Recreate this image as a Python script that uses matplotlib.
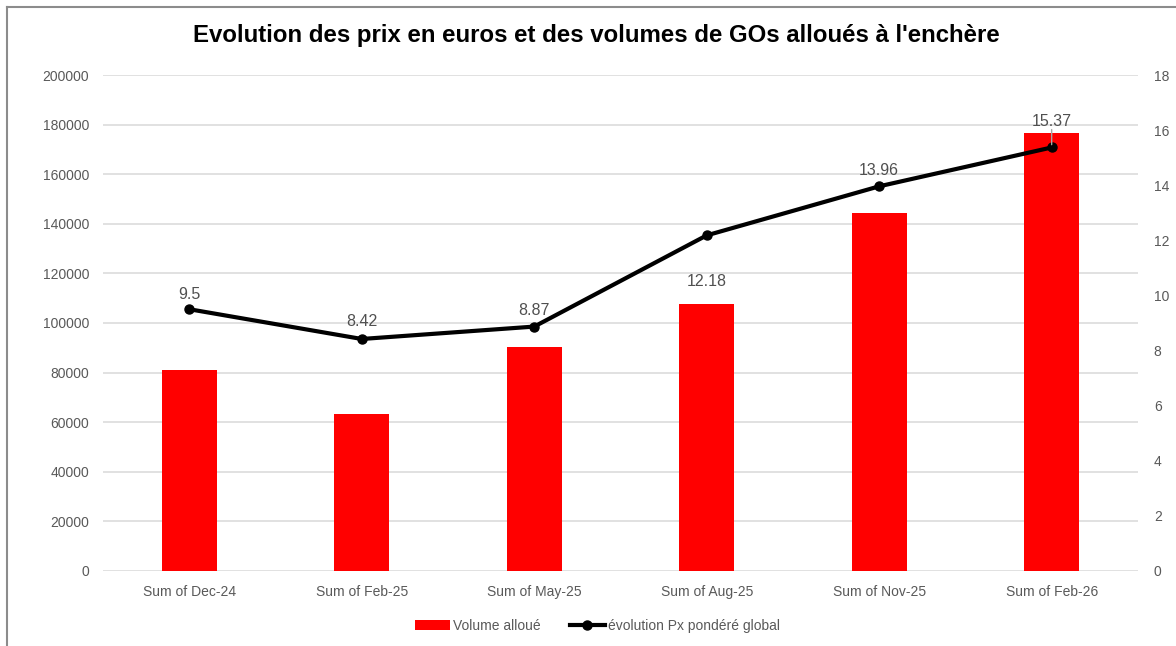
# bar + line chart: GO auction volumes and weighted price
import matplotlib
matplotlib.use('Agg')
import matplotlib.pyplot as plt
from matplotlib.lines import Line2D
from matplotlib.patches import Patch
import numpy as np

plt.rcParams['font.family'] = ['Liberation Sans', 'DejaVu Sans']

# data
categories = ['Sum of Dec-24', 'Sum of Feb-25', 'Sum of May-25',
              'Sum of Aug-25', 'Sum of Nov-25', 'Sum of Feb-26']
volumes = [81000, 63500, 90500, 107500, 144500, 176500]
prices = [9.5, 8.42, 8.87, 12.18, 13.96, 15.37]
price_labels = ['9.5', '8.42', '8.87', '12.18', '13.96', '15.37']

grey_txt = '#595959'
grid_col = '#d9d9d9'

fig = plt.figure(figsize=(11.76, 6.46), dpi=100)
ax = fig.add_axes([0.0876, 0.1161, 0.880, 0.7678])
ax2 = ax.twinx()

x = np.arange(len(categories))

# bars on the left axis
ax.bar(x, volumes, width=0.32, color='#ff0000', zorder=2)
ax.set_xlim(-0.5, len(categories) - 0.5)
ax.set_ylim(0, 200000)
ax.set_yticks(np.arange(0, 200001, 20000))
ax.yaxis.grid(True, color=grid_col, linewidth=1.1, zorder=0)
ax.set_axisbelow(True)
ax.set_xticks(x)
ax.set_xticklabels(categories)
ax.tick_params(axis='both', length=0, labelsize=10, labelcolor=grey_txt)
ax.tick_params(axis='x', pad=10)
ax.tick_params(axis='y', pad=10)

# price line on the right axis
ax2.plot(x, prices, color='black', linewidth=3, marker='o', markersize=6.5,
         zorder=3)
ax2.set_ylim(0, 18)
ax2.set_yticks(np.arange(0, 19, 2))
ax2.tick_params(axis='y', length=0, labelsize=10, labelcolor=grey_txt, pad=11.5)

for a in (ax, ax2):
    for s in a.spines.values():
        s.set_visible(False)

# data labels (offset of label centre, in points)
offsets = [10.5, 12.5, 11.5, -33, 11.5, 18.5]
for i, (p, lab) in enumerate(zip(prices, price_labels)):
    ax2.annotate(lab, (i, p), xytext=(0, offsets[i]), textcoords='offset points',
                 ha='center', va='center', fontsize=11.5, color='#505050')
# leader line for the last label
ax2.annotate('', (5, prices[5]), xytext=(5, prices[5] + 0.75),
             arrowprops=dict(arrowstyle='-', color='#a6a6a6', lw=1))

fig.text(0.507, 0.945, "Evolution des prix en euros et des volumes de GOs alloués à l'enchère",
         ha='center', va='center', fontsize=17.3, fontweight='bold', color='black')

handles = [Patch(facecolor='#ff0000', edgecolor='none'),
           Line2D([0], [0], color='black', linewidth=3, marker='o', markersize=6.5)]
fig.legend(handles, ['Volume alloué', 'évolution Px pondéré global'],
           loc='center', bbox_to_anchor=(0.508, 0.031), ncol=2, frameon=False,
           fontsize=10, labelcolor=grey_txt, handlelength=2.5, columnspacing=2.1,
           handletextpad=0.25)

# chart frame visible on left and top
fig.add_artist(Line2D([0.0062, 0.0062], [0, 0.989], color='#8c8c8c', linewidth=1.5,
                      transform=fig.transFigure))
fig.add_artist(Line2D([0.0062, 1], [0.989, 0.989], color='#8c8c8c', linewidth=1.5,
                      transform=fig.transFigure))

fig.savefig('out.png', dpi=100)
